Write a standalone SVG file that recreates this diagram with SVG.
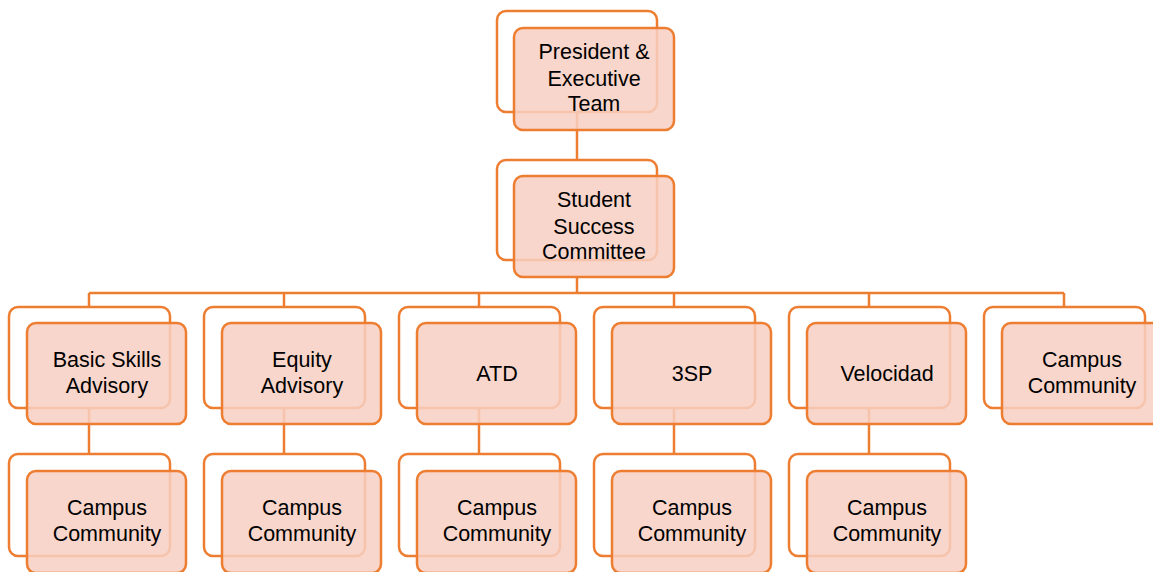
<svg xmlns="http://www.w3.org/2000/svg" width="1153" height="572" viewBox="0 0 1153 572">
<style>
.bk{fill:#fff;stroke:#ED7D31;stroke-width:2.5}
.fr{fill:#F7CFC2;fill-opacity:0.85;stroke:#ED7D31;stroke-width:2.5}
.cn{fill:none;stroke:#ED7D31;stroke-width:2.5}
text{font-family:"Liberation Sans",Arial,sans-serif;font-size:21.5px;fill:#000;text-anchor:middle}
</style>
<rect width="1153" height="572" fill="#fff"/>
<g id="connectors">
<path class="cn" d="M577 112V160M577 277V293M89 293H1064M89 293V307M284 293V307M479 293V307M674 293V307M869 293V307M1064 293V307M89 408V454M284 408V454M479 408V454M674 408V454M869 408V454"/>
</g>
<g id="president">
<rect class="bk" x="497" y="11" width="160" height="101" rx="9"/>
<rect class="fr" x="514" y="28" width="160" height="102" rx="9"/>
<text x="594" y="59">President &amp;</text><text x="594" y="86">Executive</text><text x="594" y="111">Team</text>
</g>
<g id="ssc">
<rect class="bk" x="497" y="160" width="160" height="100" rx="9"/>
<rect class="fr" x="514" y="176" width="160" height="101" rx="9"/>
<text x="594" y="207">Student</text><text x="594" y="234">Success</text><text x="594" y="259">Committee</text>
</g>
<g id="basic">
<rect class="bk" x="9" y="307" width="161" height="101" rx="9"/>
<rect class="fr" x="27" y="323" width="159" height="101" rx="9"/>
<text x="107" y="367">Basic Skills</text><text x="107" y="393">Advisory</text>
</g>
<g id="equity">
<rect class="bk" x="204" y="307" width="161" height="101" rx="9"/>
<rect class="fr" x="222" y="323" width="159" height="101" rx="9"/>
<text x="302" y="367">Equity</text><text x="302" y="393">Advisory</text>
</g>
<g id="atd">
<rect class="bk" x="399" y="307" width="161" height="101" rx="9"/>
<rect class="fr" x="417" y="323" width="159" height="101" rx="9"/>
<text x="497" y="381">ATD</text>
</g>
<g id="3sp">
<rect class="bk" x="594" y="307" width="161" height="101" rx="9"/>
<rect class="fr" x="612" y="323" width="159" height="101" rx="9"/>
<text x="692" y="381">3SP</text>
</g>
<g id="velocidad">
<rect class="bk" x="789" y="307" width="161" height="101" rx="9"/>
<rect class="fr" x="807" y="323" width="159" height="101" rx="9"/>
<text x="887" y="381">Velocidad</text>
</g>
<g id="campus6">
<rect class="bk" x="984" y="307" width="161" height="101" rx="9"/>
<rect class="fr" x="1002" y="323" width="159" height="101" rx="9"/>
<text x="1082" y="367">Campus</text><text x="1082" y="393">Community</text>
</g>
<g id="campus1">
<rect class="bk" x="9" y="454" width="161" height="102" rx="9"/>
<rect class="fr" x="27" y="471" width="159" height="102" rx="9"/>
<text x="107" y="515">Campus</text><text x="107" y="541">Community</text>
</g>
<g id="campus2">
<rect class="bk" x="204" y="454" width="161" height="102" rx="9"/>
<rect class="fr" x="222" y="471" width="159" height="102" rx="9"/>
<text x="302" y="515">Campus</text><text x="302" y="541">Community</text>
</g>
<g id="campus3">
<rect class="bk" x="399" y="454" width="161" height="102" rx="9"/>
<rect class="fr" x="417" y="471" width="159" height="102" rx="9"/>
<text x="497" y="515">Campus</text><text x="497" y="541">Community</text>
</g>
<g id="campus4">
<rect class="bk" x="594" y="454" width="161" height="102" rx="9"/>
<rect class="fr" x="612" y="471" width="159" height="102" rx="9"/>
<text x="692" y="515">Campus</text><text x="692" y="541">Community</text>
</g>
<g id="campus5">
<rect class="bk" x="789" y="454" width="161" height="102" rx="9"/>
<rect class="fr" x="807" y="471" width="159" height="102" rx="9"/>
<text x="887" y="515">Campus</text><text x="887" y="541">Community</text>
</g>
</svg>
